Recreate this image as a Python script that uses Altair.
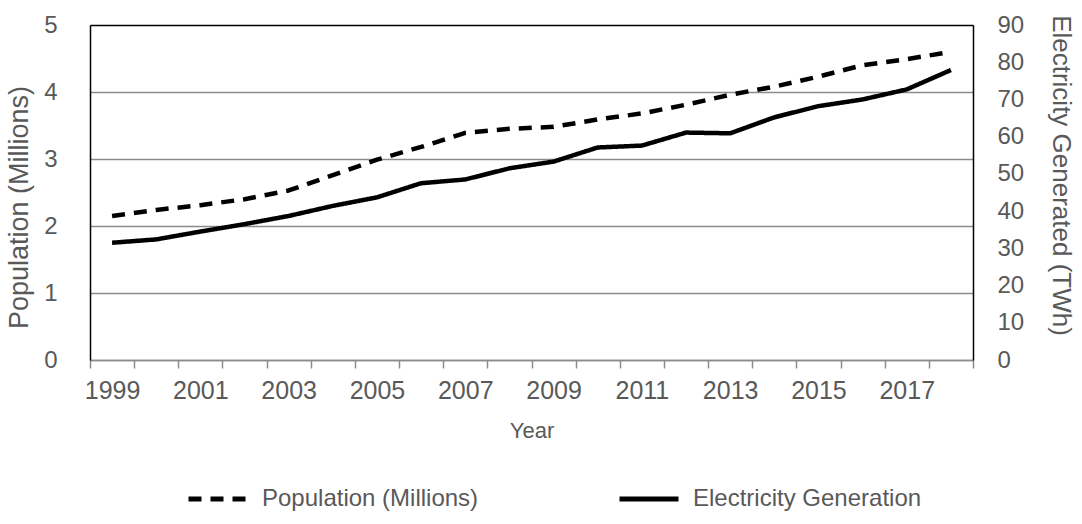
import altair as alt
import pandas as pd

years = list(range(1999, 2019))
population = [2.15, 2.24, 2.31, 2.40, 2.53, 2.76, 2.99, 3.18, 3.39, 3.45,
              3.48, 3.59, 3.68, 3.81, 3.96, 4.08, 4.23, 4.40, 4.49, 4.60]
electricity = [31.5, 32.4, 34.5, 36.5, 38.7, 41.4, 43.7, 47.5, 48.5, 51.5,
               53.3, 57.1, 57.6, 61.1, 60.9, 65.2, 68.2, 70.0, 72.7, 77.9]
series_names = ["Population (Millions)", "Electricity Generation"]

pop_df = pd.DataFrame({"Year": years, "value": population, "series": series_names[0]})
elec_df = pd.DataFrame({"Year": years, "value": electricity, "series": series_names[1]})

FONT = "Liberation Sans"
GREY_TEXT = "#595959"
GRID = "#8c8c8c"

# ticks sit between years, labels on every other year
x_values = sorted([y for y in years] + [y - 0.5 for y in years] + [years[-1] + 0.5])

x_axis = alt.Axis(
    values=x_values,
    labelExpr="(datum.value % 2 == 1) ? format(datum.value, 'd') : ''",
    labelOverlap=False,
    labelFlush=False,
    grid=False,
    domainColor=GRID,
    domainWidth=1.5,
    tickColor=GRID,
    tickSize=8,
    tickWidth=1.5,
    tickOpacity=alt.condition("datum.value % 1 != 0", alt.value(1), alt.value(0)),
    labelFontSize=25,
    labelColor=GREY_TEXT,
    labelPadding=10,
    labelLimit=200,
    title="Year",
    titleFontSize=22,
    titleFontWeight="normal",
    titleColor=GREY_TEXT,
    titlePadding=17,
)
x_scale = alt.Scale(domain=[years[0] - 0.5, years[-1] + 0.5], nice=False, zero=False)

dash_enc = alt.StrokeDash(
    "series:N",
    scale=alt.Scale(domain=series_names, range=[[13, 9], [1, 0]]),
    sort=series_names,
    legend=alt.Legend(
        title=None,
        orient="none",
        direction="horizontal",
        legendX=96,
        legendY=442,
        symbolType="stroke",
        symbolSize=3481,
        symbolStrokeWidth=5,
        symbolStrokeColor="black",
        labelFontSize=24,
        labelColor=GREY_TEXT,
        labelOffset=12,
        labelLimit=500,
        columnPadding=130,
    ),
)

line_style = dict(color="black", strokeWidth=4.5, strokeCap="butt", strokeJoin="round")

pop_line = alt.Chart(pop_df).mark_line(**line_style).encode(
    x=alt.X("Year:Q", scale=x_scale, axis=x_axis),
    y=alt.Y(
        "value:Q",
        scale=alt.Scale(domain=[0, 5], nice=False),
        axis=alt.Axis(
            values=[0, 1, 2, 3, 4, 5],
            orient="left",
            grid=True,
            gridColor=alt.condition("datum.value == 5", alt.value("black"), alt.value(GRID)),
            gridWidth=1.5,
            domainColor="black",
            domainWidth=1.5,
            tickSize=0,
            labelFontSize=24,
            labelColor=GREY_TEXT,
            labelPadding=33,
            title="Population (Millions)",
            titleFontSize=27,
            titleFontWeight="normal",
            titleColor=GREY_TEXT,
            titlePadding=10,
            titleY=182,
        ),
    ),
    strokeDash=dash_enc,
)

elec_line = alt.Chart(elec_df).mark_line(**line_style).encode(
    x=alt.X("Year:Q", scale=x_scale, axis=x_axis),
    y=alt.Y(
        "value:Q",
        scale=alt.Scale(domain=[0, 90], nice=False),
        axis=alt.Axis(
            values=list(range(0, 100, 10)),
            orient="right",
            grid=False,
            domainColor="black",
            domainWidth=1.5,
            tickSize=0,
            labelFontSize=24,
            labelColor=GREY_TEXT,
            labelPadding=24,
            title="Electricity Generated (TWh)",
            titleFontSize=26,
            titleFontWeight="normal",
            titleColor=GREY_TEXT,
            titlePadding=24,
            titleY=150,
        ),
    ),
    strokeDash=dash_enc,
)

chart = (
    alt.layer(pop_line, elec_line)
    .resolve_scale(y="independent")
    .properties(
        width=883,
        height=335,
        autosize=alt.AutoSizeParams(type="none"),
        padding={"left": 90, "top": 25, "right": 109, "bottom": 164},
        background="white",
    )
    .configure_view(stroke=None)
    .configure(font=FONT)
)

chart.save("out.html", embed_options={"renderer": "svg", "actions": False})
